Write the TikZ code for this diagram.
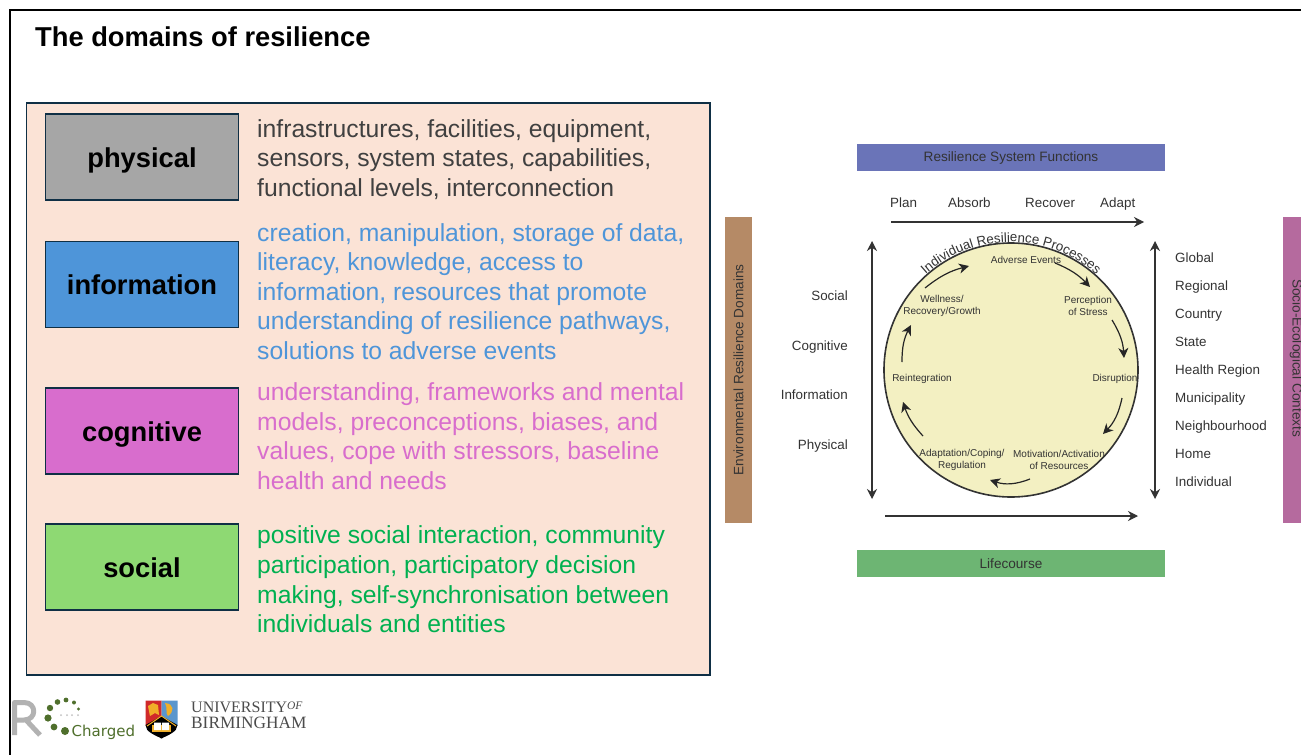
\documentclass[tikz,border=0pt]{standalone}
\usepackage{fontspec}
\setmainfont{Liberation Sans}
\newfontfamily\crestfont{Liberation Serif}
\newfontfamily\chargedfont{DejaVu Sans}
\usetikzlibrary{arrows.meta,decorations.text}
\definecolor{panelfill}{HTML}{FBE3D6}
\definecolor{panelline}{HTML}{0F2F45}
\definecolor{physfill}{HTML}{A6A6A6}
\definecolor{infofill}{HTML}{4E95D9}
\definecolor{cogfill}{HTML}{D86DCD}
\definecolor{socfill}{HTML}{8ED973}
\definecolor{socword}{HTML}{00B050}
\definecolor{physword}{HTML}{404040}
\definecolor{discfill}{HTML}{F3F0C2}
\definecolor{figword}{HTML}{333333}
\definecolor{leafgreen}{HTML}{4F6F2C}
\definecolor{funcbar}{HTML}{6A74B8}
\definecolor{lifebar}{HTML}{6DB573}
\definecolor{envbar}{HTML}{B58A66}
\definecolor{socbar}{HTML}{B56A9E}
\definecolor{crestred}{HTML}{D02A2A}
\definecolor{crestblue}{HTML}{5A96CD}
\definecolor{crestgold}{HTML}{F0AF28}
\tikzset{
	domainbox/.style={draw=panelline,line width=1.8pt,minimum width=193pt,minimum height=86pt,text height=20pt,text depth=0pt,inner sep=0pt,font=\fontsize{27.3}{30}\selectfont\bfseries,text=black},
	domainlist/.style={anchor=west,align=left,inner sep=0pt,font=\fontsize{24.7}{29.6}\selectfont},
	barlabel/.style={inner sep=0pt,font=\fontsize{13.6}{15}\selectfont,text=figword},
	sidelabel/.style={inner sep=0pt,text height=9.5pt,text depth=2.8pt,font=\fontsize{13.4}{15}\selectfont,text=figword},
	disclabel/.style={inner sep=0pt,align=center,font=\fontsize{10}{12}\selectfont,text=figword},
	figarrow/.style={-{Stealth[length=10pt,width=10pt]},line width=1.2pt,draw=figword},
	twoarrow/.style={{Stealth[length=10pt,width=10pt]}-{Stealth[length=10pt,width=10pt]},line width=1.2pt,draw=figword},
	cyclearrow/.style={-{Stealth[length=10pt,width=10pt,inset=3pt]},line width=1.2pt,draw=black!85}
}
\begin{document}
\begin{tikzpicture}[x=1pt,y=-1pt]
	\useasboundingbox (0,0) rectangle (1301,755);
	\path[fill=white] (0,0) rectangle (1301,755);
	\draw[line width=1.8pt] (1301,10)--(10,10)--(10,755);
	\node[anchor=west,inner sep=0pt,font=\fontsize{27.3}{30}\selectfont\bfseries] (title) at (35,37) {The domains of resilience};
	% left panel
	\draw[draw=panelline,fill=panelfill,line width=1.8pt] (26.5,103) rectangle (710,675);
	\node[domainbox,fill=physfill] (physical) at (142,157) {physical};
	\node[domainbox,fill=infofill] (information) at (142,284.5) {information};
	\node[domainbox,fill=cogfill] (cognitive) at (142,431) {cognitive};
	\node[domainbox,fill=socfill] (social) at (142,567) {social};
	\node[domainlist,text=physword] (physlist) at (257,159.5) {infrastructures, facilities, equipment,\\sensors, system states, capabilities,\\functional levels, interconnection};
	\node[domainlist,text=infofill] (infolist) at (257,291.5) {creation, manipulation, storage of data,\\literacy, knowledge, access to\\information, resources that promote\\understanding of resilience pathways,\\solutions to adverse events};
	\node[domainlist,text=cogfill] (coglist) at (257,436) {understanding, frameworks and mental\\models, preconceptions, biases, and\\values, cope with stressors, baseline\\health and needs};
	\node[domainlist,text=socword] (soclist) at (257,579.5) {positive social interaction, community\\participation, participatory decision\\making, self-synchronisation between\\individuals and entities};
	% right figure, bars
	\node[fill=funcbar,minimum width=308pt,minimum height=27pt,barlabel] (functions) at (1011,157.5) {Resilience System Functions};
	\node[fill=lifebar,minimum width=308pt,minimum height=27pt,barlabel] (lifecourse) at (1011,563.5) {Lifecourse};
	\node[fill=envbar,minimum width=306pt,minimum height=27pt,barlabel,rotate=90] (domainsbar) at (738.5,370) {Environmental Resilience Domains};
	\fill[socbar] (1283,217) rectangle (1301,523);
	\node[barlabel,rotate=-90] (contexts) at (1296,358) {Socio-Ecological Contexts};
	% disc
	\draw[fill=discfill,draw=black!80,line width=1.6pt] (1011,370) circle (127);
	\path[decorate,decoration={text along path,text align=center,text={|\fontsize{13.3}{15}\selectfont\color{figword}|Individual Resilience Processes}}] (1011,370) ++(-135:128) arc[start angle=-135,end angle=-45,radius=128];
	% labels round the figure
	\foreach \name/\xx/\word in {plan/890/Plan,absorb/948/Absorb,recover/1025/Recover,adapt/1100/Adapt}
		\node[sidelabel,anchor=west] (\name) at (\xx,204) {\word};
	\foreach \name/\yy/\word in {soc/297/Social,cog/347/Cognitive,inf/396/Information,phy/446/Physical}
		\node[sidelabel,anchor=east] (\name) at (848,\yy) {\word};
	\foreach \name/\yy/\word in {global/259/Global,regional/287/Regional,country/315/Country,state/343/State,health/371/Health Region,municipality/399/Municipality,neighbourhood/427/Neighbourhood,home/455/Home,individual/483/Individual}
		\node[sidelabel,anchor=west] (\name) at (1175,\yy) {\word};
	% long arrows
	\path
	(891,222) coordinate (T1)
	(1144,222) coordinate (T2)
	(885,516) coordinate (B1)
	(1138,516) coordinate (B2)
	(872,241) coordinate (L1)
	(872,499) coordinate (L2)
	(1155,241) coordinate (R1)
	(1155,499) coordinate (R2);
	\draw[figarrow] (T1)--(T2);
	\draw[figarrow] (B1)--(B2);
	\draw[twoarrow] (L1)--(L2);
	\draw[twoarrow] (R1)--(R2);
	% process cycle
	\node[disclabel] (adverse) at (1026,260) {Adverse Events};
	\node[disclabel] (perception) at (1088,306) {Perception\\of Stress};
	\node[disclabel] (disruption) at (1115,379) {Disruption};
	\node[disclabel] (motivation) at (1059,460) {Motivation/Activation\\of Resources};
	\node[disclabel] (adaptation) at (962,460) {Adaptation/Coping/\\Regulation};
	\node[disclabel] (reintegration) at (922,379) {Reintegration};
	\node[disclabel] (wellness) at (942,306) {Wellness/\\Recovery/Growth};
	\path
	(1055,263) coordinate (a1) (1090,287) coordinate (a2)
	(1112,320) coordinate (b1) (1124,358) coordinate (b2)
	(1122,398) coordinate (c1) (1103,434) coordinate (c2)
	(1030,479) coordinate (d1) (990,480) coordinate (d2)
	(923,436) coordinate (e1) (903,402) coordinate (e2)
	(902,362) coordinate (f1) (911,325) coordinate (f2)
	(925,288) coordinate (g1) (969,266) coordinate (g2);
	\draw[cyclearrow] (a1) to[bend left=12] (a2);
	\draw[cyclearrow] (b1) to[bend left=14] (b2);
	\draw[cyclearrow] (c1) to[bend left=16] (c2);
	\draw[cyclearrow] (d1) to[bend left=20] (d2);
	\draw[cyclearrow] (e1) to[bend left=12] (e2);
	\draw[cyclearrow] (f1) to[bend left=14] (f2);
	\draw[cyclearrow] (g1) to[bend left=12] (g2);
	% R Charged logo
	\draw[line width=5pt,draw=black!30,line join=round] (14.5,735)--(14.5,702.5)--(24,702.5) .. controls (37,702.5) and (37,720) .. (24,720)--(14.5,720) (26,720)--(40,735);
	\foreach \xx/\yy/\rr in {50/708/3.2,57.5/702/2.8,66/700/2.4,74/702.5/2,78.5/709/1.6,48/718/3.6,54/727/3.4,65/731/4}
		\fill[leafgreen] (\xx,\yy) circle (\rr);
	\foreach \xx in {61,67,72,78}
		\fill[black!25] (\xx,715) circle (1);
	\node[anchor=west,inner sep=0pt,font=\chargedfont\fontsize{15}{16}\selectfont,text=leafgreen] (charged) at (71.5,732) {Charged};
	% crest
	\path
	(145.5,700.5) coordinate (S1) (177.5,700.5) coordinate (S2)
	(161.5,738.5) coordinate (S3) (161.5,700.5) coordinate (S4)
	(161.5,716) coordinate (S5);
	\fill[crestred] (S1)--(S4)--(S5)--(145.5,726)--cycle;
	\fill[crestblue] (S4)--(S2)--(177.5,726)--(S5)--cycle;
	\fill[black] (145.5,725)--(S5)--(177.5,725) .. controls (177.5,732) and (168,735) .. (S3) .. controls (155,735) and (145.5,732) .. (145.5,725)--cycle;
	\fill[crestgold] (148,706)--(153,703)--(158,705)--(159,715)--(155,713)--(150,716)--cycle;
	\fill[crestgold] (165,703) .. controls (175,704) and (174,712) .. (168,716) .. controls (165,713) and (168,708) .. (165,703)--cycle;
	\draw[crestgold,line width=1pt] (147,726)--(S5)--(176,726);
	\fill[crestgold] (152,725) rectangle (171,732);
	\fill[white] (154,722.5) rectangle (161,730) (162,722.5) rectangle (169,730);
	% university name
	\node[anchor=west,inner sep=0pt,font=\crestfont\fontsize{16}{17}\selectfont,text=black!70] (university) at (191,707.5) {UNIVERSITY\raisebox{3pt}{\fontsize{11.5}{11.5}\selectfont\itshape OF}};
	\node[anchor=west,inner sep=0pt,font=\crestfont\fontsize{17.3}{18}\selectfont,text=black!70] (birmingham) at (191,723) {BIRMINGHAM};
\end{tikzpicture}
\end{document}
